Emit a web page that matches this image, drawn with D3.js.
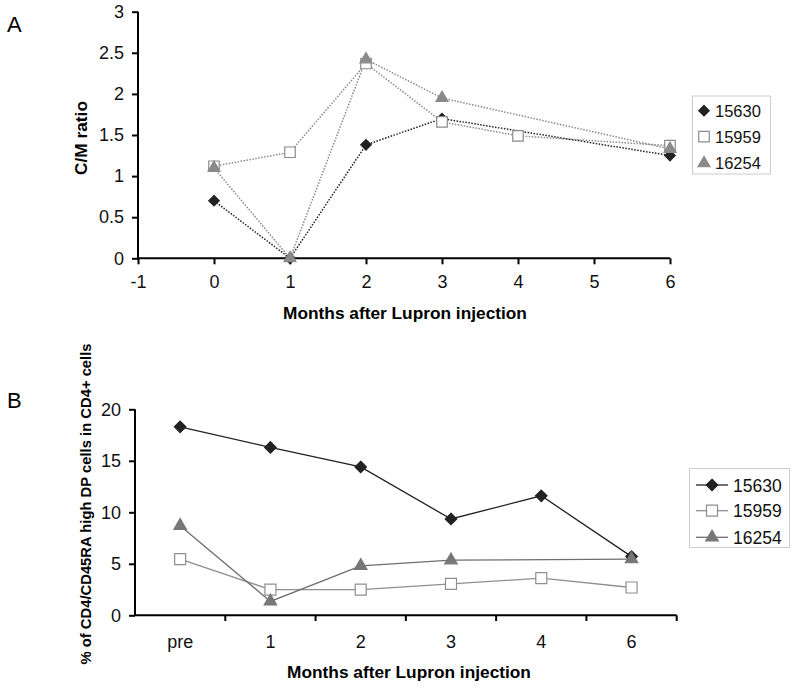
<!DOCTYPE html>
<html><head><meta charset="utf-8">
<script src="https://cdn.jsdelivr.net/npm/d3@7"></script>
<style>body{margin:0;background:#fff}svg{display:block}text{font-family:"Liberation Sans",Arial,sans-serif}</style>
</head><body>
<svg id="c" width="795" height="688"></svg>
<script>
// Panel A data
const seriesNames = ["15630","15959","16254"];
const monthsA = [0,1,2,3,4,6];
const valuesA_15630 = [0.70, 0, 1.38, 1.70, null, 1.25];
const valuesA_15959 = [1.12, 1.29, 2.37, 1.66, 1.49, 1.37];
const valuesA_16254 = [1.10, 0, 2.42, 1.95, null, 1.33];
const xTicksA = [-1,0,1,2,3,4,5,6];
const yTicksA = [0,0.5,1,1.5,2,2.5,3];
// Panel B data
const categoriesB = ["pre","1","2","3","4","6"];
const valuesB_15630 = [18.3, 16.3, 14.4, 9.35, 11.6, 5.7];
const valuesB_15959 = [5.45, 2.5, 2.5, 3.05, 3.6, 2.7];
const valuesB_16254 = [8.7, 1.35, 4.8, 5.35, null, 5.45];
const yTicksB = [0,5,10,15,20];

const svg = d3.select("#c");
// symbol generator by visual width
function symbolPath(shape, w){
  if(shape==="diamond") return d3.symbol(d3.symbolDiamond2, Math.pow(w/1.2525,2))();
  if(shape==="square") return d3.symbol(d3.symbolSquare2, Math.pow(w/0.8862,2))();
  const y = w/(2*Math.sqrt(3));
  return d3.symbol(d3.symbolTriangle, y*y*3*Math.sqrt(3))();
}

// ---------- Panel A ----------
const xA = d3.scaleLinear().domain([-1,6]).range([138,670]);
const yA = d3.scaleLinear().domain([0,3]).range([258.3,11.7]);
const gA = svg.append("g");
const stylesA = [
  {vals: valuesA_15630, line:"#222", shape:"diamond", fill:"#222", stroke:"#222", w:10.5},
  {vals: valuesA_15959, line:"#8a8a8a", shape:"square", fill:"#fff", stroke:"#8a8a8a", w:10.5},
  {vals: valuesA_16254, line:"#8a8a8a", shape:"triangle", fill:"#8a8a8a", stroke:"#8a8a8a", w:12}
];
gA.append("g").attr("transform","translate(0,258.3)")
  .call(d3.axisBottom(xA).tickValues(xTicksA).tickSize(6).tickPadding(11).tickFormat(d=>String(d)))
  .call(g=>{g.select(".domain").attr("stroke","#000").attr("stroke-width",2).attr("d","M138,0H670");
    g.selectAll(".tick line").attr("stroke","#000").attr("stroke-width",2);
    g.selectAll("text").attr("font-size",18).attr("fill","#111");});
gA.append("g").attr("transform","translate(138,0)")
  .call(d3.axisLeft(yA).tickValues(yTicksA).tickSize(6).tickPadding(8).tickFormat(d=>String(d)))
  .call(g=>{g.select(".domain").attr("stroke","#000").attr("stroke-width",2).attr("d","M0,258.3V11.7");
    g.selectAll(".tick line").attr("stroke","#000").attr("stroke-width",2);
    g.selectAll("text").attr("font-size",18).attr("fill","#111");});
stylesA.forEach(s=>{
  const pts = monthsA.map((m,i)=>[m,s.vals[i]]).filter(p=>p[1]!=null);
  gA.append("path").datum(pts).attr("fill","none").attr("stroke",s.line).attr("stroke-width",1.5)
    .attr("stroke-dasharray","1.5,1.5")
    .attr("d", d3.line().x(p=>xA(p[0])).y(p=>yA(p[1])));
});
stylesA.forEach(s=>{
  const pts = monthsA.map((m,i)=>[m,s.vals[i]]).filter(p=>p[1]!=null);
  gA.selectAll(null).data(pts).join("path")
    .attr("transform",p=>`translate(${xA(p[0])},${yA(p[1])})`)
    .attr("d", symbolPath(s.shape, s.w))
    .attr("fill",s.fill).attr("stroke",s.stroke).attr("stroke-width",1.2);
});
gA.append("text").attr("x",405).attr("y",319).attr("text-anchor","middle").attr("font-size",17.3)
  .attr("font-weight","bold").text("Months after Lupron injection");
gA.append("text").attr("transform","translate(87,138) rotate(-90)").attr("text-anchor","middle")
  .attr("font-size",17.3).attr("font-weight","bold").text("C/M ratio");
svg.append("text").attr("x",7).attr("y",32).attr("font-size",22).text("A");
const lgA = gA.append("g");
lgA.append("rect").attr("x",692.5).attr("y",96).attr("width",78).attr("height",78)
  .attr("fill","#fff").attr("stroke","#ccc").attr("stroke-width",1);
stylesA.forEach((s,i)=>{
  const yy = [110.7,136.7,163.3][i];
  lgA.append("path").attr("transform",`translate(704,${yy})`)
    .attr("d", symbolPath(s.shape, s.w)).attr("fill",s.fill).attr("stroke",s.stroke).attr("stroke-width",1.2);
  lgA.append("text").attr("x",715).attr("y",yy+6).attr("font-size",16.5).attr("fill","#111").text(seriesNames[i]);
});

// ---------- Panel B ----------
const xB = d3.scaleBand().domain(categoriesB).range([135,676.7]);
const yB = d3.scaleLinear().domain([0,20]).range([615.3,409.3]);
const gB = svg.append("g");
const stylesB = [
  {vals: valuesB_15630, line:"#222", shape:"diamond", fill:"#222", stroke:"#222", w:11.5},
  {vals: valuesB_15959, line:"#8f8f8f", shape:"square", fill:"#fff", stroke:"#8f8f8f", w:11},
  {vals: valuesB_16254, line:"#6e6e6e", shape:"triangle", fill:"#777", stroke:"#777", w:12.5}
];
gB.append("g").attr("transform","translate(0,615.3)")
  .call(d3.axisBottom(xB).tickSize(0).tickPadding(20))
  .call(g=>{g.select(".domain").attr("stroke","#000").attr("stroke-width",2).attr("d","M135,0H676.7");
    g.selectAll("text").attr("font-size",18).attr("fill","#111");});
gB.selectAll(null).data(categoriesB).join("line")
  .attr("x1",d=>xB(d)+xB.bandwidth()).attr("x2",d=>xB(d)+xB.bandwidth())
  .attr("y1",615.3).attr("y2",621).attr("stroke","#000").attr("stroke-width",2);
gB.append("g").attr("transform","translate(135,0)")
  .call(d3.axisLeft(yB).tickValues(yTicksB).tickSize(6).tickPadding(8))
  .call(g=>{g.select(".domain").attr("stroke","#000").attr("stroke-width",2).attr("d","M0,615.3V409.3");
    g.selectAll(".tick line").attr("stroke","#000").attr("stroke-width",2);
    g.selectAll("text").attr("font-size",18).attr("fill","#111");});
const cx = c=>xB(c)+xB.bandwidth()/2;
stylesB.forEach(s=>{
  const pts = categoriesB.map((c,i)=>[c,s.vals[i]]).filter(p=>p[1]!=null);
  gB.append("path").datum(pts).attr("fill","none").attr("stroke",s.line).attr("stroke-width",1.3)
    .attr("d", d3.line().x(p=>cx(p[0])).y(p=>yB(p[1])));
});
stylesB.forEach(s=>{
  const pts = categoriesB.map((c,i)=>[c,s.vals[i]]).filter(p=>p[1]!=null);
  gB.selectAll(null).data(pts).join("path")
    .attr("transform",p=>`translate(${cx(p[0])},${yB(p[1])})`)
    .attr("d", symbolPath(s.shape, s.w))
    .attr("fill",s.fill).attr("stroke",s.stroke).attr("stroke-width",1.2);
});
gB.append("text").attr("x",409).attr("y",677.5).attr("text-anchor","middle").attr("font-size",17.3)
  .attr("font-weight","bold").text("Months after Lupron injection");
gB.append("text").attr("transform","translate(91,504) rotate(-90)").attr("text-anchor","middle")
  .attr("font-size",14.8).attr("font-weight","bold").text("% of CD4/CD45RA high DP cells in CD4+ cells");
svg.append("text").attr("x",7).attr("y",408).attr("font-size",22).text("B");
const lgB = gB.append("g");
lgB.append("rect").attr("x",689.5).attr("y",468.5).attr("width",100).attr("height",79)
  .attr("fill","#fff").attr("stroke","#ccc").attr("stroke-width",1);
stylesB.forEach((s,i)=>{
  const yy = [485,510.7,537.3][i];
  lgB.append("line").attr("x1",696).attr("x2",728).attr("y1",yy).attr("y2",yy).attr("stroke",s.line).attr("stroke-width",1.3);
  lgB.append("path").attr("transform",`translate(712,${yy})`)
    .attr("d", symbolPath(s.shape, s.w)).attr("fill",s.fill).attr("stroke",s.stroke).attr("stroke-width",1.2);
  lgB.append("text").attr("x",733).attr("y",yy+6.5).attr("font-size",17.5).attr("fill","#111").text(seriesNames[i]);
});
</script>
</body></html>
